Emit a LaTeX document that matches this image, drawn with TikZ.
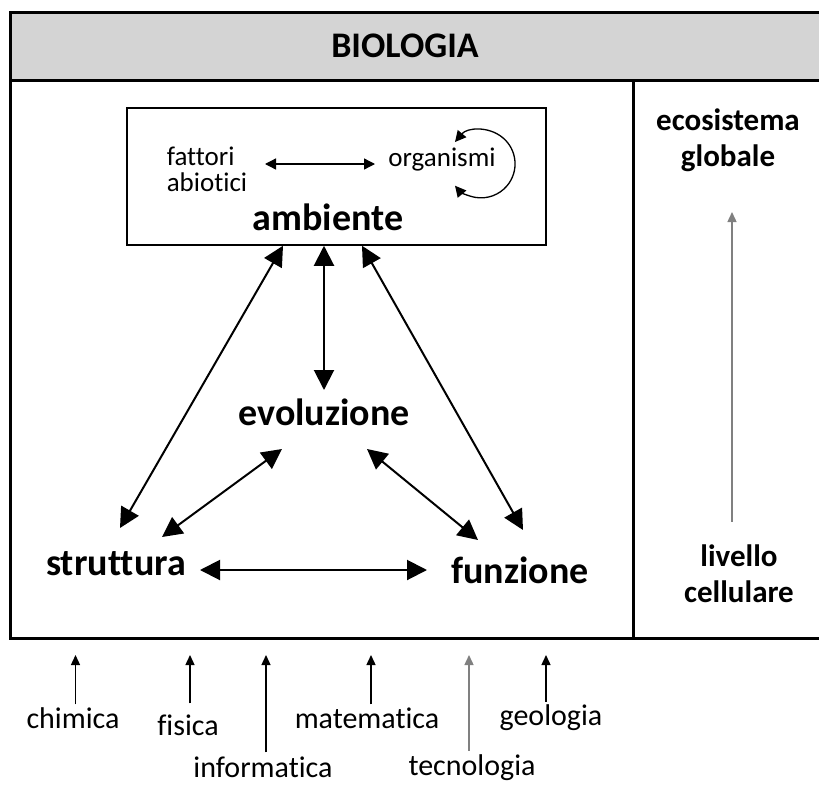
\documentclass[tikz,border=0pt]{standalone}
\usepackage{fontspec}
\setmainfont{Carlito}[Ligatures={NoCommon}]
\usepackage{tikz}
\usetikzlibrary{arrows.meta, positioning, calc}
\definecolor{bandgray}{RGB}{212,212,212}
\tikzset{
  %% Main double arrow
  bigarr/.style={{Triangle[length=20pt,width=20pt]}-{Triangle[length=20pt,width=20pt]},
                 line width=2pt},
  %% Thin double arrow inside ambiente
  thinarr/.style={{Triangle[length=11pt,width=11pt]}-{Triangle[length=11pt,width=11pt]},
                  line width=1.3pt},
  %% Arrow from a discipline
  uparr/.style={-{Triangle[length=10pt,width=9pt]}, line width=1.4pt},
  %% Labels
  bigl/.style={font=\bfseries\fontsize{38}{42}\selectfont, inner sep=3pt},
  sidel/.style={font=\bfseries\fontsize{31}{36}\selectfont, align=center, inner sep=3pt},
  smalll/.style={font=\fontsize{27}{26}\selectfont, inner sep=3pt},
  discl/.style={font=\fontsize{30}{34}\selectfont, inner sep=2pt},
}
\begin{document}
\begin{tikzpicture}[x=1pt, y=-1pt]
  \useasboundingbox (0,0) rectangle (819,787);

  %% Frame
  \draw[line width=3pt, fill=bandgray] (10,12) rectangle (830,80);
  \draw[line width=3pt] (10,80) rectangle (830,638);
  \draw[line width=3pt] (633,80) -- (633,638);
  \node[font=\bfseries\fontsize{36}{40}\selectfont] (title) at (405,46) {BIOLOGIA};

  %% Ambiente box
  \node[draw, line width=1.5pt, minimum width=419pt, minimum height=137pt,
        inner sep=0pt] (amb) at (336.5,176.5) {};
  \node[smalll, align=left] (abio) at (207,169) {fattori\\abiotici};
  \node[smalll] (org) at (442,160) {organismi};
  \node[bigl] (ambl) at (328,217) {ambiente};
  \draw[thinarr] ([shift={(58,-5)}]abio.center) -- ([shift={(-67,4)}]org.center);
  \draw[thinarr] ([shift={(13,-18)}]org.center)
    arc[start angle=-140, end angle=140, radius=34];

  %% Central nodes
  \node[bigl] (evo) at (324,412) {evoluzione};
  \node[bigl] (strut) at (116,564) {struttura};
  \node[bigl] (funz) at (520,570) {funzione};

  \draw[bigarr] ([xshift=-53.5pt]amb.south) -- ([shift={(4,-36)}]strut.center);
  \draw[bigarr] ([xshift=-12.5pt]amb.south) -- ([shift={(0,-22)}]evo.center);
  \draw[bigarr] ([xshift=25.5pt]amb.south) -- ([shift={(3,-40)}]funz.center);
  \draw[bigarr] ([shift={(-42,37)}]evo.center) -- ([shift={(46,-27)}]strut.center);
  \draw[bigarr] ([shift={(43,37)}]evo.center) -- ([shift={(-42,-30)}]funz.center);
  \draw[bigarr] ([shift={(84,6)}]strut.center) -- ([shift={(-93,0)}]funz.center);

  %% Levels
  \node[sidel] (eco) at (728,140) {ecosistema\\globale};
  \node[sidel] (cell) at (739,574) {livello\\cellulare};
  \coordinate (levtop) at (732,212);
  \draw[uparr, draw=gray, shorten <=20pt] (cell.north -| levtop) -- (levtop);

  %% Disciplines
  \node[discl] (chim) at (73,718) {chimica};
  \node[discl] (fis) at (188,725) {fisica};
  \node[discl] (info) at (263,767) {informatica};
  \node[discl] (mat) at (367,718) {matematica};
  \node[discl] (tec) at (472,768) {tecnologia};
  \node[discl] (geo) at (551,718) {geologia};

  \coordinate (chimtip) at (75.5,655);
  \coordinate (fistip) at (190,655);
  \coordinate (infotip) at (266,655);
  \coordinate (mattip) at (371,655);
  \coordinate (tectip) at (469,655);
  \coordinate (geotip) at (546,655);
  \draw[uparr] ([yshift=1pt]chim.north -| chimtip) -- (chimtip);
  \draw[uparr] ([yshift=9pt]fis.north -| fistip) -- (fistip);
  \draw[uparr] ([yshift=2pt]info.north -| infotip) -- (infotip);
  \draw[uparr] ([yshift=1pt]mat.north -| mattip) -- (mattip);
  \draw[uparr, draw=gray] ([yshift=2pt]tec.north -| tectip) -- (tectip);
  \draw[uparr] ([yshift=1pt]geo.north -| geotip) -- (geotip);
\end{tikzpicture}
\end{document}
